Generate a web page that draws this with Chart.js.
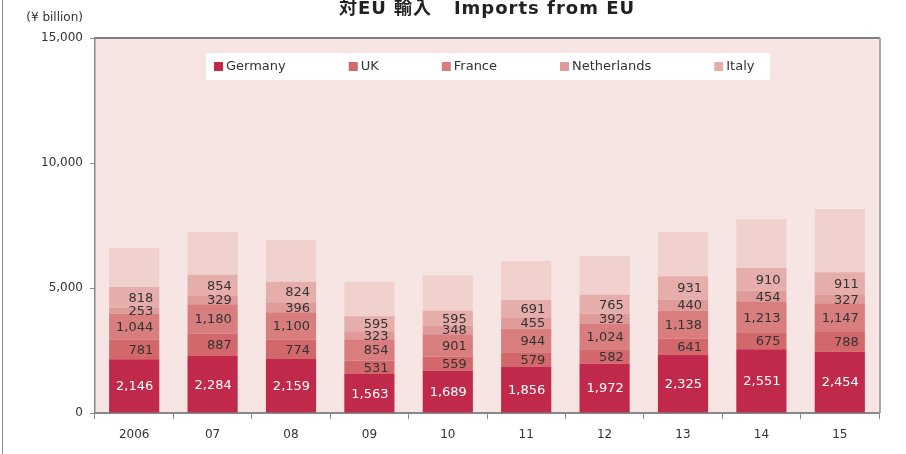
<!DOCTYPE html>
<html>
<head>
<meta charset="utf-8">
<title>Imports from EU</title>
<script src="https://cdn.jsdelivr.net/npm/chart.js@4.4.1/dist/chart.umd.min.js"></script>
<style>
  html, body { margin: 0; padding: 0; background: #fff; }
  #wrap { position: relative; width: 906px; height: 454px; }
</style>
</head>
<body>
<div id="wrap"><canvas id="euChart" width="906" height="454"></canvas></div>
<script>
(function() {
  'use strict';

  var years = ['2006', '07', '08', '09', '10', '11', '12', '13', '14', '15'];
  var germany = [2146, 2284, 2159, 1563, 1689, 1856, 1972, 2325, 2551, 2454];
  var uk = [781, 887, 774, 531, 559, 579, 582, 641, 675, 788];
  var france = [1044, 1180, 1100, 854, 901, 944, 1024, 1138, 1213, 1147];
  var netherlands = [253, 329, 396, 323, 348, 455, 392, 440, 454, 327];
  var italy = [818, 854, 824, 595, 595, 691, 765, 931, 910, 911];
  var others = [1558, 1706, 1667, 1374, 1428, 1555, 1545, 1765, 1957, 2533];

  var seriesNames = ['Germany', 'UK', 'France', 'Netherlands', 'Italy', 'Others'];
  var seriesColors = ['#C0294A', '#D2686B', '#D87E7E', '#DF9B99', '#E6AEAB', '#F0D1CD'];
  var labelColors = ['#ffffff', '#333333', '#333333', '#333333', '#333333', null];

  var FONT = "'DejaVu Sans', Verdana, sans-serif";

  function fmt(v) {
    return Number(v).toLocaleString('en-US');
  }

  // plot background, border lines, title, unit and the frame on the left
  var decorPlugin = {
    id: 'decor',
    beforeDraw: function(chart) {
      var ctx = chart.ctx;
      var a = chart.chartArea;
      ctx.save();
      ctx.fillStyle = '#F7E5E3';
      ctx.fillRect(a.left, a.top, a.right - a.left, a.bottom - a.top);
      ctx.restore();
    },
    afterDraw: function(chart) {
      var ctx = chart.ctx;
      var a = chart.chartArea;
      ctx.save();
      ctx.strokeStyle = '#808080';
      ctx.lineWidth = 2;
      ctx.beginPath();
      ctx.moveTo(a.left, a.top);
      ctx.lineTo(a.right + 1, a.top);
      ctx.stroke();
      ctx.strokeStyle = '#A6A6A6';
      ctx.beginPath();
      ctx.moveTo(a.right + 1, a.top);
      ctx.lineTo(a.right + 1, a.bottom);
      ctx.stroke();

      ctx.strokeStyle = '#8C8C8C';
      ctx.lineWidth = 1;
      ctx.beginPath();
      ctx.moveTo(2.5, 0);
      ctx.lineTo(2.5, 454);
      ctx.stroke();

      ctx.fillStyle = '#222222';
      ctx.font = 'bold 18px ' + FONT + ", 'Noto Sans CJK JP'";
      ctx.textAlign = 'center';
      ctx.textBaseline = 'middle';
      if ('letterSpacing' in ctx) ctx.letterSpacing = '1px';
      ctx.fillText('対EU 輸入   Imports from EU', 487, 9);
      if ('letterSpacing' in ctx) ctx.letterSpacing = '0px';

      ctx.font = '12px ' + FONT;
      ctx.fillStyle = '#333333';
      ctx.textAlign = 'right';
      ctx.fillText('(¥ billion)', 83, 18);
      ctx.restore();
    }
  };

  // legend box inside the plot, only the five named countries
  var legendPlugin = {
    id: 'boxLegend',
    afterDatasetsDraw: function(chart) {
      var ctx = chart.ctx;
      ctx.save();
      ctx.fillStyle = '#ffffff';
      ctx.fillRect(206, 53, 564, 27);
      ctx.font = '13px ' + FONT;
      ctx.textBaseline = 'middle';
      ctx.textAlign = 'left';
      var x = 214;
      for (var i = 0; i < 5; i++) {
        ctx.fillStyle = seriesColors[i];
        ctx.fillRect(x, 62, 9, 9);
        ctx.fillStyle = '#333333';
        ctx.fillText(seriesNames[i], x + 12, 67);
        x += 12 + ctx.measureText(seriesNames[i]).width + 63;
      }
      ctx.restore();
    }
  };

  // value labels, right aligned inside each segment
  var valuePlugin = {
    id: 'values',
    afterDatasetsDraw: function(chart) {
      var ctx = chart.ctx;
      ctx.save();
      ctx.font = '13px ' + FONT;
      ctx.textAlign = 'right';
      ctx.textBaseline = 'middle';
      chart.data.datasets.forEach(function(ds, di) {
        if (!labelColors[di]) return;
        var meta = chart.getDatasetMeta(di);
        meta.data.forEach(function(bar, i) {
          var p = bar.getProps(['x', 'y', 'base', 'width'], true);
          ctx.fillStyle = labelColors[di];
          ctx.fillText(fmt(ds.data[i]), p.x + p.width / 2 - 6, (p.y + p.base) / 2 + 1);
        });
      });
      ctx.restore();
    }
  };

  var allSeries = [germany, uk, france, netherlands, italy, others];
  var datasets = allSeries.map(function(values, i) {
    return {
      label: seriesNames[i],
      data: values,
      backgroundColor: seriesColors[i],
      borderWidth: 0,
      categoryPercentage: 1,
      barPercentage: 0.64
    };
  });

  Chart.defaults.font.family = FONT;
  Chart.defaults.color = '#333333';

  new Chart(document.getElementById('euChart').getContext('2d'), {
    type: 'bar',
    data: { labels: years, datasets: datasets },
    options: {
      responsive: false,
      animation: false,
      layout: { padding: { top: 38, right: 27, left: 0, bottom: 0 } },
      plugins: {
        legend: { display: false },
        tooltip: { enabled: false }
      },
      scales: {
        x: {
          stacked: true,
          grid: { offset: true, drawOnChartArea: false, tickLength: 6, color: '#888888', lineWidth: 1 },
          border: { color: '#888888', width: 2 },
          ticks: { font: { size: 12 }, color: '#333333', padding: 9 },
          afterFit: function(scale) { scale.height = 41; }
        },
        y: {
          stacked: true,
          min: 0,
          max: 15000,
          grid: { drawOnChartArea: false, tickLength: 5, color: '#888888' },
          border: { color: '#888888', width: 1.5 },
          ticks: {
            stepSize: 5000,
            font: { size: 12 },
            color: '#333333',
            padding: 7,
            callback: function(v) { return fmt(v); }
          },
          afterFit: function(scale) { scale.width = 95; }
        }
      }
    },
    plugins: [decorPlugin, legendPlugin, valuePlugin]
  });
})();
</script>
</body>
</html>
